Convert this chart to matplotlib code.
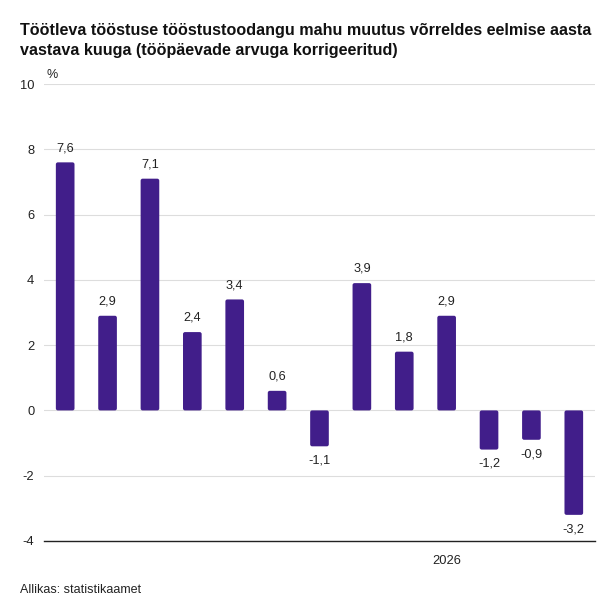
import matplotlib
matplotlib.use("Agg")
import matplotlib.pyplot as plt
from matplotlib.patches import FancyBboxPatch

plt.rcParams['font.family'] = ['Liberation Sans', 'DejaVu Sans']

values = [7.6, 2.9, 7.1, 2.4, 3.4, 0.6, -1.1, 3.9, 1.8, 2.9, -1.2, -0.9, -3.2]
xtick_labels = {9: "2026"}
yticks = [-4, -2, 0, 2, 4, 6, 8, 10]
title = "Töötleva tööstuse tööstustoodangu mahu muutus võrreldes eelmise aasta\nvastava kuuga (tööpäevade arvuga korrigeeritud)"
source = "Allikas: statistikaamet"
bar_color = "#411e8a"

fig = plt.figure(figsize=(6.16, 6.16), dpi=100)
ax = fig.add_axes([0.0714, 0.1218, 0.8945, 0.7418])

x = list(range(len(values)))
bars = ax.bar(x, values, width=0.44, color=bar_color, zorder=3)

ax.set_xlim(-0.5, len(values) - 0.5)
ax.set_ylim(-4, 10)

# rounded corners on bars
fig.canvas.draw()
bb = ax.get_window_extent()
xpp = (len(values)) / bb.width      # x data units per pixel
ypp = 14.0 / bb.height               # y data units per pixel
aspect = ypp / xpp
for rect in bars:
    x0, y0 = rect.get_x(), rect.get_y()
    w, h = rect.get_width(), rect.get_height()
    rect.set_visible(False)
    p = FancyBboxPatch((x0, min(y0, y0 + h)), w, abs(h),
                       boxstyle="round,pad=0,rounding_size=%f" % (2.0 * xpp),
                       mutation_aspect=aspect, facecolor=bar_color,
                       edgecolor="none", zorder=3)
    ax.add_patch(p)

for xi, v in zip(x, values):
    lbl = f"{v:.1f}".replace(".", ",")
    if v >= 0:
        ax.annotate(lbl, (xi, v), xytext=(0, 6), textcoords="offset points",
                    ha="center", va="bottom", fontsize=9.2, color="#222222")
    else:
        ax.annotate(lbl, (xi, v), xytext=(0, -6), textcoords="offset points",
                    ha="center", va="top", fontsize=9.2, color="#222222")

ax.set_yticks(yticks)
ax.set_yticklabels([str(t) for t in yticks], fontsize=9.3)
ax.set_xticks(list(xtick_labels.keys()))
ax.set_xticklabels(list(xtick_labels.values()), fontsize=9.3)
ax.tick_params(axis='both', length=0, pad=7, colors="#222222")
ax.tick_params(axis='x', pad=10)
ax.grid(axis='y', color="#dddddd", linewidth=0.8, zorder=0)
for s in ['top', 'right', 'left']:
    ax.spines[s].set_visible(False)
ax.spines['bottom'].set_color("#222222")
ax.spines['bottom'].set_linewidth(1.0)
ax.spines['bottom'].set_zorder(4)

fig.text(0.076, 0.868, "%", fontsize=9, color="#222222", ha="left", va="bottom")
fig.text(0.032, 0.962, title, fontsize=11.6, fontweight="bold", ha="left", va="top",
         linespacing=1.4, color="#111111")
fig.text(0.032, 0.043, source, fontsize=9, ha="left", va="center", color="#222222")

fig.savefig("out.png", dpi=100)
